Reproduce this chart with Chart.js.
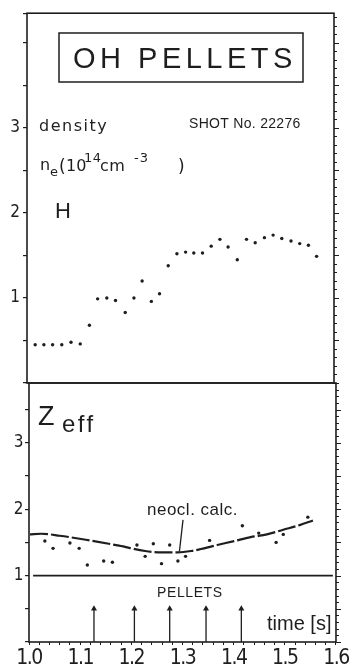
<!DOCTYPE html>
<html><head><meta charset="utf-8">
<script src="https://cdn.jsdelivr.net/npm/chart.js@4/dist/chart.umd.min.js"></script>
<style>
html,body{margin:0;padding:0;background:#fff;}
#wrap{position:relative;width:352px;height:666px;background:#fff;}
canvas{position:absolute;left:0;top:0;}
</style></head><body>
<div id="wrap"><canvas id="cTop" width="352" height="666"></canvas><canvas id="cBot" width="352" height="666"></canvas></div>
<script>
// ---- data ----
const densTime = [1.016,1.033,1.050,1.068,1.086,1.104,1.122,1.138,1.156,1.173,1.192,1.209,1.225,1.243,1.259,1.276,1.293,1.310,1.326,1.343,1.360,1.377,1.393,1.411,1.429,1.446,1.464,1.481,1.498,1.516,1.533,1.550,1.566];
const densValue = [0.45,0.45,0.45,0.45,0.48,0.46,0.68,0.99,1.00,0.97,0.83,1.00,1.20,0.96,1.05,1.38,1.52,1.54,1.53,1.53,1.61,1.69,1.60,1.45,1.69,1.65,1.71,1.74,1.70,1.67,1.64,1.62,1.49];
const zeffTime = [1.031,1.047,1.080,1.098,1.114,1.146,1.163,1.211,1.227,1.243,1.259,1.275,1.291,1.306,1.353,1.417,1.449,1.483,1.497,1.545];
const zeffValue = [1.52,1.41,1.49,1.41,1.16,1.22,1.20,1.46,1.29,1.48,1.18,1.46,1.22,1.29,1.53,1.75,1.64,1.50,1.62,1.88];
const calcTime = [1.002,1.024,1.060,1.111,1.176,1.227,1.259,1.291,1.317,1.336,1.368,1.401,1.433,1.465,1.497,1.529,1.555];
const calcValue = [1.62,1.63,1.60,1.54,1.45,1.37,1.35,1.35,1.37,1.40,1.46,1.52,1.58,1.62,1.69,1.76,1.83];
const pelletTimes = [1.127,1.206,1.275,1.346,1.415];
const pelletHeight = [0, 0.5];
const unityTime = [1.008, 1.594];
const unityValue = [1, 1];
const leaderTime = [1.301, 1.294];
const leaderValue = [1.84, 1.36];
const densTickLabels = [1, 2, 3];
const zeffTickLabels = [1, 2, 3];
const timeTickLabels = ['1.0','1.1','1.2','1.3','1.4','1.5','1.6'];

const INK = '#1e1e1e';
const NARROW = "'Liberation Sans Narrow','DejaVu Sans Condensed','Liberation Sans',sans-serif";
const SANS = "'Liberation Sans',Arial,sans-serif";
const DJV = "'DejaVu Sans',sans-serif";

function txt(ctx, s, x, y, font, ls) {
  ctx.save();
  ctx.font = font;
  ctx.fillStyle = INK;
  ctx.textBaseline = 'alphabetic';
  ctx.textAlign = 'left';
  ctx.letterSpacing = (ls || 0) + 'px';
  ctx.fillText(s, x, y);
  ctx.restore();
}

const framePlugin = {
  id: 'frame',
  afterDatasetsDraw(chart) {
    const {ctx, chartArea: a} = chart;
    ctx.save();
    ctx.strokeStyle = INK;
    ctx.lineWidth = 1.6;
    ctx.strokeRect(a.left, a.top, a.right - a.left, a.bottom - a.top);
    // minor ticks on the right edge, placed through the y scale
    const s = chart.scales.y;
    ctx.lineWidth = 1.1;
    ctx.beginPath();
    for (let i = 0; i * 0.1 <= s.max + 1e-9; i++) {
      const y = Math.round(s.getPixelForValue(i * 0.1)) + 0.5;
      const len = (i % 5 === 0) ? 5 : 3;
      ctx.moveTo(a.right, y); ctx.lineTo(a.right + len, y);
    }
    ctx.stroke();
    ctx.restore();
  }
};

const topText = {
  id: 'topText',
  afterDraw(chart) {
    const ctx = chart.ctx;
    ctx.save();
    ctx.strokeStyle = INK; ctx.lineWidth = 1.5;
    ctx.strokeRect(59, 33, 244, 49);
    ctx.restore();
    txt(ctx, 'OH PELLETS', 73, 68, '29px ' + SANS, 4.5);
    txt(ctx, 'density', 39, 131, '16px ' + DJV, 1.5);
    txt(ctx, 'SHOT No. 22276', 189, 128, '14px ' + SANS, 0.3);
    txt(ctx, 'n', 40, 170, '16px ' + DJV, 0);
    txt(ctx, 'e', 50, 176, '13px ' + DJV, 0);
    txt(ctx, '(', 59, 172, '17px ' + DJV, 0);
    txt(ctx, '10', 66, 171, '16px ' + DJV, 0);
    txt(ctx, '14', 84, 162, '13px ' + DJV, 0.5);
    txt(ctx, 'cm', 100, 171, '16px ' + DJV, 0.5);
    txt(ctx, '-3', 134, 162, '13px ' + DJV, 1);
    txt(ctx, ')', 178, 172, '17px ' + DJV, 0);
    txt(ctx, 'H', 55, 218, '22px ' + SANS, 0);
  }
};

const botText = {
  id: 'botText',
  beforeDraw(chart) { chart.ctx.letterSpacing = '-1.5px'; },
  afterDraw(chart) {
    const ctx = chart.ctx;
    txt(ctx, 'Z', 38, 425, '27px ' + SANS, 0);
    txt(ctx, 'eff', 62, 432, '24px ' + SANS, 2.5);
    txt(ctx, 'neocl. calc.', 147, 515, '17px ' + SANS, 0.5);
    txt(ctx, 'PELLETS', 157, 597, '14px ' + SANS, 0.6);
    txt(ctx, 'time [s]', 267, 630, '20px ' + SANS, 0);
  }
};

function pts(xs, ys) { return xs.map((x, i) => ({x, y: ys[i]})); }

function yLeft(max, labels, width) {
  return {
    position: 'left', min: 0, max: max,
    ticks: { stepSize: 0.5, color: INK, padding: 3, autoSkip: false,
      font: {family: NARROW, size: 17},
      callback: (v) => labels.includes(v) ? String(v) : '' },
    grid: { drawOnChartArea: false, drawTicks: true, tickLength: 4, color: INK, tickColor: INK, lineWidth: 1.2 },
    border: { display: false },
    afterFit(s) { s.width = width; }
  };
}

const common = {
  responsive: false, animation: false, devicePixelRatio: 1,
  plugins: { legend: {display: false}, tooltip: {enabled: false} },
  events: []
};

new Chart(document.getElementById('cTop'), {
  type: 'scatter',
  data: { datasets: [{
    data: pts(densTime, densValue),
    pointRadius: 1.7, pointBackgroundColor: INK, pointBorderWidth: 0, showLine: false
  }]},
  options: Object.assign({}, common, {
    layout: { padding: {left: 0, right: 18, top: 13, bottom: 283} },
    scales: {
      x: { type: 'linear', min: 1.0, max: 1.6, display: false },
      y: yLeft(4.35, densTickLabels, 27)
    }
  }),
  plugins: [framePlugin, topText]
});

const stems = [];
pelletTimes.forEach(t => { stems.push({x: t, y: pelletHeight[0]}, {x: t, y: pelletHeight[1]}, {x: t, y: null}); });

new Chart(document.getElementById('cBot'), {
  type: 'scatter',
  data: { datasets: [
    { data: pts(zeffTime, zeffValue), pointRadius: 1.7, pointBackgroundColor: INK, pointBorderWidth: 0, showLine: false },
    { data: pts(calcTime, calcValue), showLine: true, borderColor: INK, borderWidth: 2.2, pointRadius: 0,
      tension: 0.4, cubicInterpolationMode: 'monotone', borderDash: [18, 3] },
    { data: pts(unityTime, unityValue), showLine: true, borderColor: INK, borderWidth: 1.6, pointRadius: 0 },
    { data: pts(leaderTime, leaderValue), showLine: true, borderColor: INK, borderWidth: 1.3, pointRadius: 0 },
    { data: stems, showLine: true, spanGaps: false, borderColor: INK, borderWidth: 1.3, pointRadius: 0 },
    { data: pelletTimes.map(t => ({x: t, y: pelletHeight[1]})), pointStyle: 'triangle', pointRadius: 3.5,
      pointBackgroundColor: INK, pointBorderColor: INK, pointBorderWidth: 0, showLine: false }
  ]},
  options: Object.assign({}, common, {
    layout: { padding: {left: 0, right: 12, top: 383, bottom: 0} },
    scales: {
      x: { type: 'linear', position: 'bottom', min: 1.0, max: 1.6,
        ticks: { stepSize: 0.02, autoSkip: false, maxRotation: 0, color: INK, padding: 1,
          font: {family: NARROW, size: 21},
          callback: (v) => { const k = Math.round((v - 1.0) * 10); return Math.abs((v - 1.0) * 10 - k) < 1e-6 ? timeTickLabels[k] : ''; } },
        grid: { drawOnChartArea: false, drawTicks: true, tickLength: 3, color: INK, tickColor: INK, lineWidth: 1 },
        border: { display: false },
        afterFit(s) { s.height = 24; }
      },
      y: yLeft(3.9, zeffTickLabels, 29)
    }
  }),
  plugins: [framePlugin, botText]
});
</script>
</body></html>
